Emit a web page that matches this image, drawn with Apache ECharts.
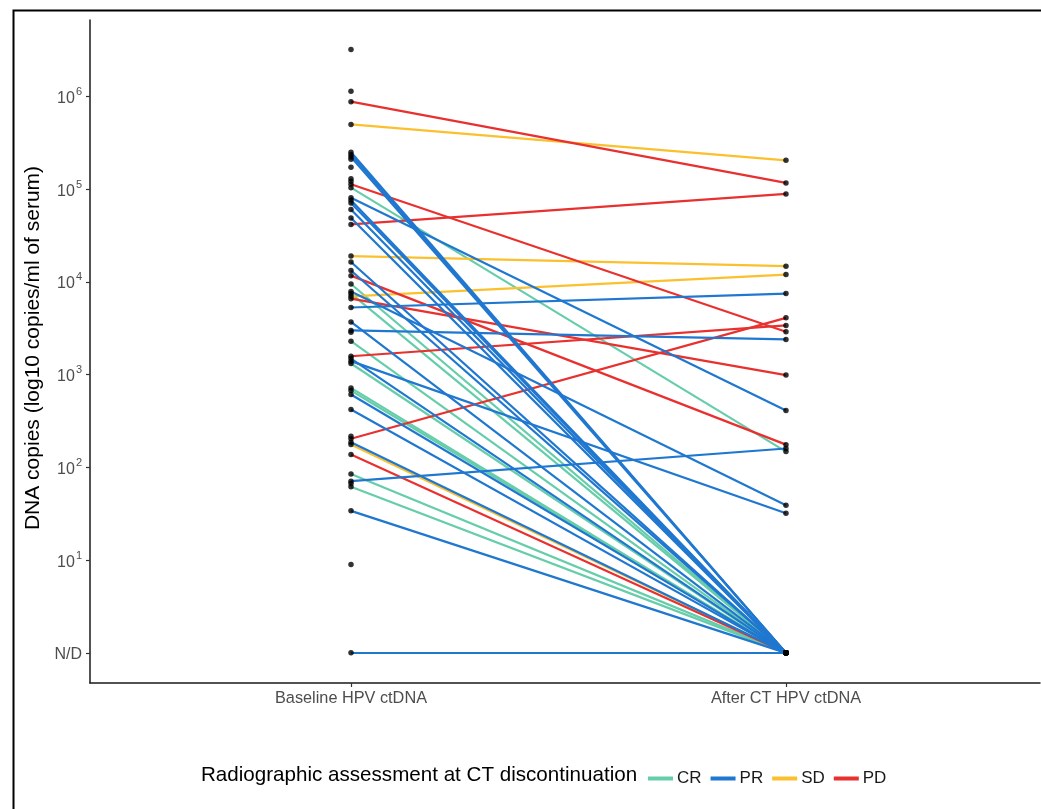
<!DOCTYPE html>
<html>
<head>
<meta charset="utf-8">
<script src="https://cdn.jsdelivr.net/npm/echarts@6/dist/echarts.min.js"></script>
<style>
html,body{margin:0;padding:0;background:#fff;}
#chart{width:1041px;height:809px;}
</style>
</head>
<body>
<div id="chart"></div>
<script>
// ---- data (copies/ml; ND = not detected, plotted at 10^0) ----
const ND = 1;
const categories = ['Baseline HPV ctDNA', 'After CT HPV ctDNA'];
const groups = ['CR', 'PR', 'SD', 'PD'];
const groupColors = ['#66CDAA', '#1F77D0', '#FBC02D', '#E8312F'];

// paired patients: baseline value, after-CT value, response group
const pairBaseline = [8.8e5, 5.0e5, 2.51e5, 2.36e5, 2.22e5, 1.13e5, 1.04e5, 8.1e4, 7.6e4, 7.1e4,
  6.05e4, 4.9e4, 4.17e4, 1.9e4, 1.64e4, 1.33e4, 1.17e4, 9.5e3, 7.9e3, 7.5e3,
  7.0e3, 6.6e3, 5.3e3, 3.7e3, 3.0e3, 2.3e3, 1.58e3, 1.49e3, 1.40e3, 1.32e3,
  720, 675, 611, 422, 204, 187, 177, 138, 85, 71, 62, 34, ND];
const pairAfter = [1.17e5, 2.05e5, ND, ND, ND, 2.9e3, 148, 410, ND, ND,
  ND, ND, 8.9e4, 1.48e4, ND, ND, 176, ND, 39, ND,
  1.2e4, 990, 7.5e3, ND, 2.4e3, ND, 3.4e3, ND, 32, ND,
  ND, ND, ND, ND, 4.1e3, ND, ND, ND, ND, 160, ND, ND, ND];
const pairGroup = ['PD', 'SD', 'PR', 'PR', 'PR', 'PD', 'CR', 'PR', 'PR', 'PR',
  'PR', 'PR', 'PD', 'SD', 'PR', 'PR', 'PD', 'CR', 'PR', 'CR',
  'SD', 'PD', 'PR', 'PR', 'PR', 'CR', 'PD', 'PR', 'PR', 'CR',
  'CR', 'CR', 'PR', 'PR', 'PD', 'PR', 'SD', 'PD', 'CR', 'PR', 'CR', 'PR', 'PR'];
// baseline values without an after-CT measurement
const unpairedBaseline = [3.22e6, 1.14e6, 2.1e5, 1.73e5, 1.3e5, 1.22e5, 2.87e3, 217, 67, 9];

const yTickValues = [1, 10, 100, 1000, 10000, 100000, 1000000];
const yTickLabels = ['N/D', '1', '2', '3', '4', '5', '6']; // exponent of 10 (N/D at bottom)

// ---- build options ----
const FONT = '"Liberation Sans", Arial, Helvetica, sans-serif';
const drawOrder = ['CR', 'SD', 'PD', 'PR'];
const lineSeries = drawOrder.map(g => {
  const gi = groups.indexOf(g);
  const data = [];
  pairGroup.forEach((pg, i) => {
    if (pg === g) data.push({ coords: [[1, pairBaseline[i]], [2, pairAfter[i]]] });
  });
  return {
    name: g,
    type: 'lines',
    coordinateSystem: 'cartesian2d',
    color: groupColors[gi],
    lineStyle: { color: groupColors[gi], width: 2.2, opacity: 1, curveness: 0 },
    silent: true,
    z: 2,
    data
  };
});

const pointData = [];
pairBaseline.forEach(v => pointData.push([1, v]));
unpairedBaseline.forEach(v => pointData.push([1, v]));
pairAfter.forEach(v => pointData.push([2, v]));

const chart = echarts.init(document.getElementById('chart'), null, { renderer: 'canvas' });
chart.setOption({
  animation: false,
  backgroundColor: '#ffffff',
  textStyle: { fontFamily: FONT },
  grid: { left: 90, top: 20, right: 1, height: 663, containLabel: false },
  xAxis: {
    type: 'value', min: 0.4, max: 2.584,
    axisLine: { show: true, lineStyle: { color: '#1a1a1a', width: 1.5 } },
    axisTick: { show: true, customValues: [1, 2], length: 4, lineStyle: { color: '#333', width: 1.2 } },
    axisLabel: {
      customValues: [1, 2], margin: 8, color: '#4d4d4d', fontSize: 16.3, fontFamily: FONT,
      formatter: v => categories[Math.round(v) - 1] || ''
    },
    splitLine: { show: false }
  },
  yAxis: {
    type: 'log', logBase: 10,
    min: Math.pow(10, -0.325), max: Math.pow(10, 6.825),
    axisLine: { show: true, lineStyle: { color: '#1a1a1a', width: 1.5 } },
    axisTick: { show: true, customValues: yTickValues, length: 4, lineStyle: { color: '#333', width: 1.2 } },
    axisLabel: {
      customValues: yTickValues, margin: 8, color: '#4d4d4d', fontFamily: FONT,
      formatter: v => {
        const e = Math.round(Math.log10(v));
        const idx = yTickValues.indexOf(Math.pow(10, e));
        if (idx === 0) return '{b|' + yTickLabels[0] + '}';
        return '{b|10}{s|' + yTickLabels[idx] + '}';
      },
      rich: {
        b: { fontSize: 16, color: '#4d4d4d', fontFamily: FONT, lineHeight: 20, verticalAlign: 'bottom' },
        s: { fontSize: 11, color: '#4d4d4d', fontFamily: FONT, lineHeight: 20, verticalAlign: 'top', padding: [0, 0, 0, 1] }
      }
    },
    splitLine: { show: false }
  },
  legend: {
    data: groups,
    left: 643, top: 765,
    icon: 'rect', itemWidth: 23, itemHeight: 2.2, itemGap: 9,
    textStyle: { fontSize: 17, color: '#1a1a1a', fontFamily: FONT },
    selectedMode: false
  },
  graphic: [
    { type: 'rect', shape: { x: 13.5, y: 10.5, width: 1100, height: 900 }, style: { fill: 'none', stroke: '#000', lineWidth: 2 }, silent: true, z: 100 },
    { type: 'text', x: 33, y: 348, rotation: Math.PI / 2, style: { text: 'DNA copies (log10 copies/ml of serum)', fontSize: 21, fontFamily: FONT, fill: '#000', align: 'center', verticalAlign: 'middle' } },
    { type: 'text', x: 201, y: 775, style: { text: 'Radiographic assessment at CT discontinuation', fontSize: 20.6, fontFamily: FONT, fill: '#000', align: 'left', verticalAlign: 'middle' } }
  ],
  series: lineSeries.concat([{
    name: 'points', type: 'scatter', symbol: 'circle', symbolSize: 5.5,
    itemStyle: { color: '#000' }, silent: true, z: 5, data: pointData
  }])
});
</script>
</body>
</html>
